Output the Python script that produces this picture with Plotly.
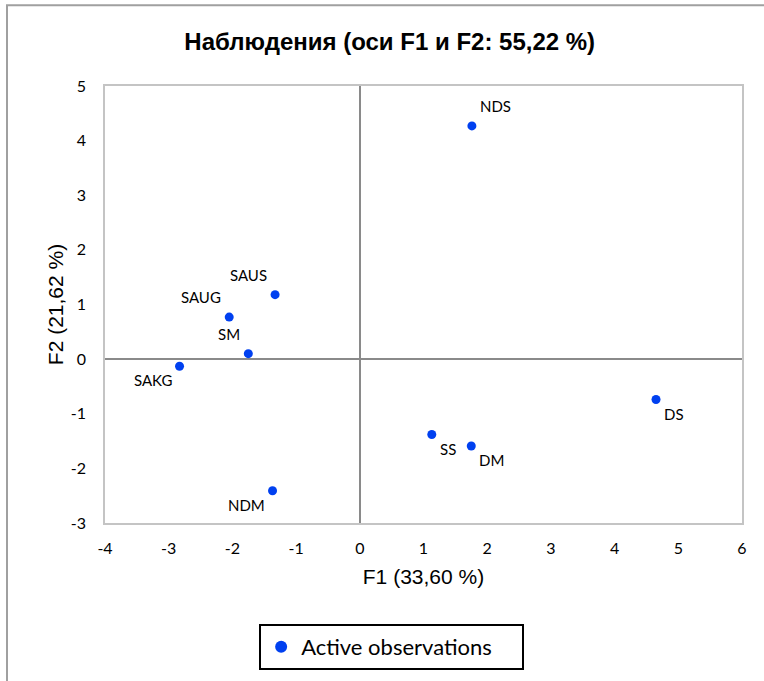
import plotly.graph_objects as go

# Data
names = ["NDS", "SAUS", "SAUG", "SM", "SAKG", "NDM", "SS", "DM", "DS"]
f1 = [1.76, -1.33, -2.05, -1.75, -2.83, -1.37, 1.13, 1.75, 4.65]
f2 = [4.27, 1.18, 0.77, 0.10, -0.13, -2.41, -1.38, -1.59, -0.74]
x_ticks = [-4, -3, -2, -1, 0, 1, 2, 3, 4, 5, 6]
y_ticks = [-3, -2, -1, 0, 1, 2, 3, 4, 5]

title = "Наблюдения (оси F1 и F2: 55,22 %)"
x_title = "F1 (33,60 %)"
y_title = "F2 (21,62 %)"
legend_name = "Active observations"

# label placement (style)
placement = {
    "NDS": "above-right", "SAUS": "above-left", "SAUG": "above-left",
    "SM": "above-left", "SAKG": "below-left", "NDM": "below-left",
    "SS": "below-right", "DM": "below-right", "DS": "below-right",
}

BLUE = "#0040f0"
FONT = "Lato"

fig = go.Figure()
fig.add_trace(go.Scatter(
    x=f1, y=f2, mode="markers", name=legend_name,
    marker=dict(color=BLUE, size=9),
    showlegend=True,
))

annotations = []
for n, x, y in zip(names, f1, f2):
    p = placement[n]
    vert, horiz = p.split("-")
    annotations.append(dict(
        x=x, y=y, xref="x", yref="y", text=n, showarrow=False,
        xanchor="left" if horiz == "right" else "right",
        yanchor="bottom" if vert == "above" else "top",
        xshift=6 if horiz == "right" else -6,
        yshift=9 if vert == "above" else -3,
        font=dict(family=FONT, size=15, color="#000000"),
    ))

fig.update_layout(
    width=764, height=681,
    margin=dict(l=105, r=22, t=86, b=157),
    paper_bgcolor="white", plot_bgcolor="white",
    title=dict(text="<b>" + title + "</b>", x=0.447, xref="paper", xanchor="center",
               y=1 - 42 / 681, yref="container", yanchor="middle",
               font=dict(family="Liberation Sans", size=24, color="#000000")),
    font=dict(family=FONT, color="#000000"),
    showlegend=True,
    legend=dict(orientation="h", x=0.450, xanchor="center", y=-0.228, yanchor="top",
                bordercolor="#000000", borderwidth=2, bgcolor="white",
                font=dict(family=FONT, size=22, color="#000000"),
                entrywidth=216, itemsizing="constant"),
    annotations=annotations,
    shapes=[dict(type="rect", xref="paper", yref="paper",
                 x0=(7 - 105) / 637, x1=1.2, y0=-0.6, y1=1 + (86 - 5) / 438,
                 line=dict(color="#a0a0a0", width=2), layer="below")],
)

fig.update_xaxes(
    range=[-4, 6], tickvals=x_ticks, ticktext=[str(v) for v in x_ticks],
    showgrid=False, zeroline=True, zerolinecolor="#8a8a8a", zerolinewidth=1.5,
    showline=True, mirror=True, linecolor="#c4c4c4", linewidth=1.5,
    ticks="", ticklabelstandoff=10,
    tickfont=dict(family=FONT, size=16, color="#000000"),
    title=dict(text=x_title, font=dict(family="Liberation Sans", size=21, color="#000000"), standoff=13),
)
fig.update_yaxes(
    range=[-3, 5], tickvals=y_ticks, ticktext=[str(v) for v in y_ticks],
    showgrid=False, zeroline=True, zerolinecolor="#8a8a8a", zerolinewidth=1.5,
    showline=True, mirror=True, linecolor="#c4c4c4", linewidth=1.5,
    ticks="", ticklabelstandoff=14,
    tickfont=dict(family=FONT, size=16, color="#000000"),
    title=dict(text=y_title, font=dict(family="Liberation Sans", size=21, color="#000000"), standoff=1),
)

# cross ticks on the vertical zero line
zero_pos = (0 - x_ticks[0]) / (x_ticks[-1] - x_ticks[0])
for name, tk in (("yaxis2", "outside"), ("yaxis3", "inside")):
    fig.update_layout(**{name: dict(
        overlaying="y", anchor="free", position=zero_pos, side="left",
        range=[-3, 5], tickvals=y_ticks, showticklabels=False,
        ticks=tk, ticklen=5, tickwidth=1.5, tickcolor="#8a8a8a",
        showgrid=False, zeroline=False, showline=False,
    )})

fig.write_html("out.html")
